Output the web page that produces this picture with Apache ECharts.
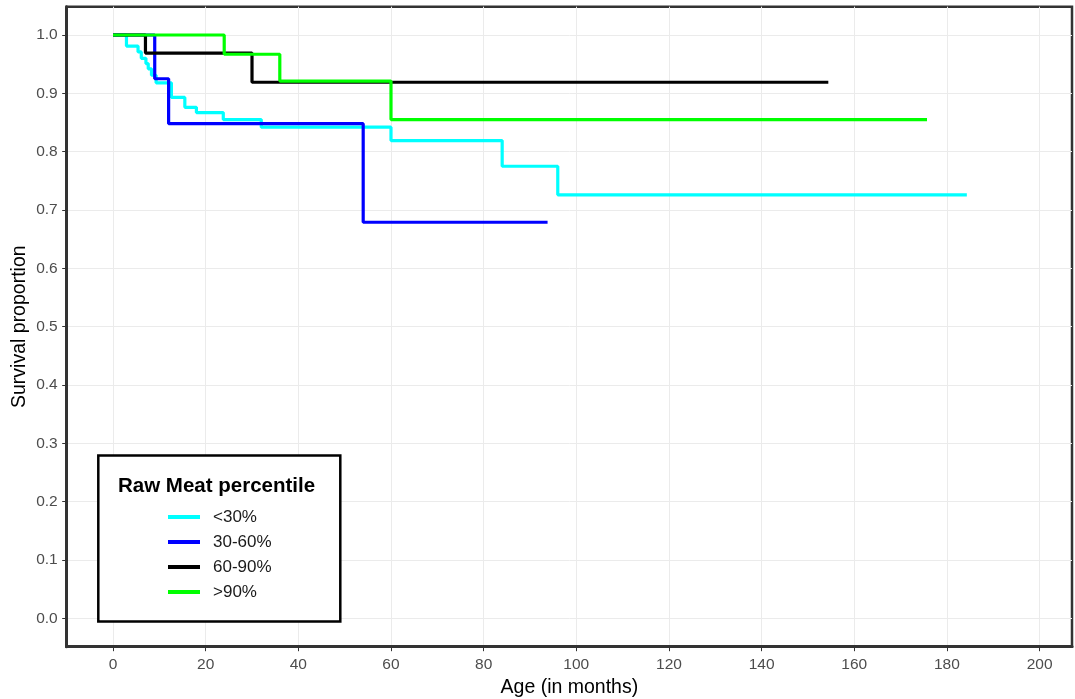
<!DOCTYPE html>
<html>
<head>
<meta charset="utf-8">
<script src="https://cdn.jsdelivr.net/npm/echarts@6/dist/echarts.min.js"></script>
<style>
html,body{margin:0;padding:0;background:#fff;}
#chart{width:1075px;height:699px;}
</style>
</head>
<body>
<div id="chart"></div>
<script>
// ---- data ----
const seriesNames = ['<30%', '30-60%', '60-90%', '>90%'];
const seriesColors = ['#00FFFF', '#0000FF', '#000000', '#00FF00'];

const timesLow = [0, 2.9, 5.4, 6.1, 7.1, 7.6, 8.3, 9.3, 12.6, 15.5, 18, 23.8, 32, 60, 84, 96, 184.3];
const survLow  = [1.0, 0.981, 0.971, 0.960, 0.951, 0.942, 0.931, 0.918, 0.893, 0.876, 0.867, 0.855, 0.842, 0.819, 0.775, 0.726, 0.726];

const timesMid = [0, 9, 12, 54, 93.8];
const survMid  = [1.0, 0.925, 0.848, 0.679, 0.679];

const timesHigh = [0, 7, 30, 154.4];
const survHigh  = [1.0, 0.969, 0.919, 0.919];

const timesTop = [0, 24, 36, 60, 175.7];
const survTop  = [1.0, 0.967, 0.921, 0.855, 0.855];

const xTickLabels = [0, 20, 40, 60, 80, 100, 120, 140, 160, 180, 200];
const yTickLabels = [0, 0.1, 0.2, 0.3, 0.4, 0.5, 0.6, 0.7, 0.8, 0.9, 1.0];
const yGridValues = [0, 0.05, 0.1, 0.15, 0.2, 0.25, 0.3, 0.35, 0.4, 0.45, 0.5, 0.55, 0.6, 0.65, 0.7, 0.75, 0.8, 0.85, 0.9, 0.95, 1.0];

const allTimes = [timesLow, timesMid, timesHigh, timesTop];
const allSurv = [survLow, survMid, survHigh, survTop];

function pairs(t, s) { return t.map((v, i) => [v, s[i]]); }

const chart = echarts.init(document.getElementById('chart'));
const labelColor = '#4d4d4d';
const font = 'Liberation Sans, Arial, sans-serif';

const option = {
  animation: false,
  backgroundColor: '#ffffff',
  grid: {
    left: 66.7, right: 3, top: 6.7, bottom: 52.3,
    outerBoundsMode: 'none', containLabel: false,
    show: true, borderColor: '#333333', borderWidth: 2.5, backgroundColor: 'transparent'
  },
  xAxis: {
    type: 'value', min: -10, max: 207, interval: 10,
    name: 'Age (in months)', nameLocation: 'middle', nameGap: 30,
    nameTextStyle: { fontFamily: font, fontSize: 19.5, color: '#000' },
    axisLine: { show: true, onZero: false, lineStyle: { color: '#333333', width: 3 } },
    axisTick: { show: true, length: 4.5, customValues: xTickLabels, lineStyle: { color: '#333333' } },
    axisLabel: { customValues: xTickLabels, fontFamily: font, fontSize: 15.5, color: labelColor, margin: 10 },
    splitLine: { show: true, lineStyle: { color: '#ebebeb', width: 1 } }
  },
  yAxis: {
    type: 'value', min: -0.0487, max: 1.0485,
    name: 'Survival proportion', nameLocation: 'middle', nameGap: 37, nameMoveOverlap: false,
    nameTextStyle: { fontFamily: font, fontSize: 19.5, color: '#000' },
    axisLine: { show: true, onZero: false, lineStyle: { color: '#333333', width: 3 } },
    axisTick: { show: true, length: 4.5, customValues: yTickLabels, lineStyle: { color: '#333333' } },
    axisLabel: { customValues: yTickLabels, fontFamily: font, fontSize: 15.5, color: labelColor, margin: 9,
                 formatter: v => v.toFixed(1) },
    splitLine: { show: true, customValues: yGridValues, lineStyle: { color: '#ebebeb', width: 1 } }
  },
  legend: {
    z: 200,
    orient: 'vertical', left: 168, top: 507, padding: 0,
    icon: 'rect', itemWidth: 32, itemHeight: 4, itemGap: 5,
    data: seriesNames,
    textStyle: { fontFamily: font, fontSize: 17, lineHeight: 20, color: '#1a1a1a', padding: [0, 0, 0, 8] }
  },
  graphic: [
    { type: 'rect', z: 100, shape: { x: 98.3, y: 455.5, width: 242, height: 166 },
      style: { fill: '#ffffff', stroke: '#000000', lineWidth: 2.5 } },
    { type: 'text', z: 101, left: 118, top: 476,
      style: { text: 'Raw Meat percentile', fontFamily: font, fontSize: 20.5, fontWeight: 'bold', fill: '#000' } }
  ],
  series: seriesNames.map((name, i) => ({
    name: name, type: 'line', step: 'end', showSymbol: false, symbol: 'none',
    color: seriesColors[i],
    lineStyle: { color: seriesColors[i], width: 3.2 },
    data: pairs(allTimes[i], allSurv[i]),
    z: 2 + i
  }))
};
chart.setOption(option);
</script>
</body>
</html>
